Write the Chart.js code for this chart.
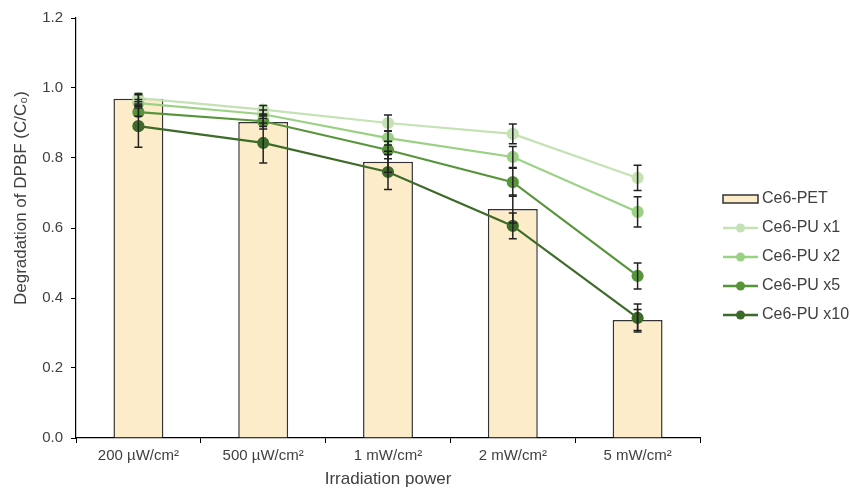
<!DOCTYPE html>
<html>
<head>
<meta charset="utf-8">
<script src="https://cdn.jsdelivr.net/npm/chart.js@4"></script>
<style>
  html, body { margin: 0; padding: 0; background: #fff; }
  #wrap { width: 850px; height: 489px; }
</style>
</head>
<body>
<div id="wrap"><canvas id="chart" width="850" height="489"></canvas></div>
<script>
const categories = ['200 µW/cm²', '500 µW/cm²', '1 mW/cm²', '2 mW/cm²', '5 mW/cm²'];
const yTicks = [0, 0.2, 0.4, 0.6, 0.8, 1.0, 1.2];
const xTitle = 'Irradiation power';
const yTitle = 'Degradation of DPBF (C/C₀)';

const petValues  = [0.969, 0.903, 0.789, 0.654, 0.337];
const pu1Values  = [0.971, 0.938, 0.900, 0.869, 0.743];
const pu2Values  = [0.957, 0.925, 0.857, 0.803, 0.646];
const pu5Values  = [0.931, 0.905, 0.823, 0.731, 0.463];
const pu10Values = [0.891, 0.843, 0.760, 0.606, 0.343];

const petErrors  = [0.015, 0.020, 0.030, 0.040, 0.030];
const pu1Errors  = [0.010, 0.012, 0.023, 0.028, 0.036];
const pu2Errors  = [0.010, 0.012, 0.020, 0.030, 0.043];
const pu5Errors  = [0.012, 0.015, 0.025, 0.040, 0.037];
const pu10Errors = [0.060, 0.057, 0.050, 0.037, 0.040];

const FONT = "'Liberation Sans', Arial, sans-serif";
const TEXT = '#404040';

function lineSet(label, data, errors, color) {
  return {
    type: 'line', label, data, errors,
    borderColor: color, backgroundColor: color,
    pointBackgroundColor: color, pointBorderColor: color,
    borderWidth: 2.2, pointRadius: 5, pointHoverRadius: 5,
    tension: 0, order: 1
  };
}

// draws the black error bars through the chart scales
const errorBars = {
  id: 'errorBars',
  afterDatasetsDraw(chart) {
    const ctx = chart.ctx;
    const ys = chart.scales.y;
    ctx.save();
    ctx.strokeStyle = '#222';
    ctx.lineWidth = 1.5;
    chart.data.datasets.forEach((ds, i) => {
      const meta = chart.getDatasetMeta(i);
      meta.data.forEach((el, j) => {
        const x = el.x;
        const v = ds.data[j], e = ds.errors[j];
        const top = ys.getPixelForValue(v + e);
        const bot = ys.getPixelForValue(v - e);
        ctx.beginPath();
        ctx.moveTo(x, top); ctx.lineTo(x, bot);
        ctx.moveTo(x - 4, top); ctx.lineTo(x + 4, top);
        ctx.moveTo(x - 4, bot); ctx.lineTo(x + 4, bot);
        ctx.stroke();
      });
    });
    ctx.restore();
  }
};

// axis titles placed by hand (the y one sits above the axis middle)
const axisTitles = {
  id: 'axisTitles',
  afterDraw(chart) {
    const ctx = chart.ctx;
    ctx.save();
    ctx.fillStyle = TEXT;
    ctx.font = '17px ' + FONT;
    ctx.textAlign = 'center';
    ctx.textBaseline = 'middle';
    ctx.fillText(xTitle, (chart.chartArea.left + chart.chartArea.right) / 2, 479);
    ctx.translate(21, 198);
    ctx.rotate(-Math.PI / 2);
    ctx.fillText(yTitle, 0, 0);
    ctx.restore();
  }
};

// legend on the right, swatch + line-with-marker entries
const sideLegend = {
  id: 'sideLegend',
  afterDraw(chart) {
    const ctx = chart.ctx;
    const x0 = 723, x1 = 758, tx = 762;
    let y = 199;
    ctx.save();
    ctx.font = '16px ' + FONT;
    ctx.textBaseline = 'middle';
    chart.data.datasets.forEach(ds => {
      if (ds.type === 'bar') {
        ctx.fillStyle = ds.backgroundColor;
        ctx.fillRect(x0, y - 4, x1 - x0, 8);
        ctx.strokeStyle = ds.borderColor;
        ctx.lineWidth = 1.5;
        ctx.strokeRect(x0, y - 4, x1 - x0, 8);
      } else {
        ctx.strokeStyle = ds.borderColor;
        ctx.lineWidth = 2.5;
        ctx.beginPath(); ctx.moveTo(x0, y); ctx.lineTo(x1, y); ctx.stroke();
        ctx.fillStyle = ds.borderColor;
        ctx.beginPath(); ctx.arc((x0 + x1) / 2, y, 4.5, 0, Math.PI * 2); ctx.fill();
      }
      ctx.fillStyle = TEXT;
      ctx.fillText(ds.label, tx, y);
      y += 29;
    });
    ctx.restore();
  }
};

new Chart(document.getElementById('chart'), {
  type: 'bar',
  data: {
    labels: categories,
    datasets: [
      {
        type: 'bar', label: 'Ce6-PET', data: petValues, errors: petErrors,
        backgroundColor: '#fdecc9', borderColor: '#333', borderWidth: 1.5,
        barPercentage: 0.4, categoryPercentage: 1.0, order: 2
      },
      lineSet('Ce6-PU x1', pu1Values, pu1Errors, '#c4e2b3'),
      lineSet('Ce6-PU x2', pu2Values, pu2Errors, '#9bd185'),
      lineSet('Ce6-PU x5', pu5Values, pu5Errors, '#57953b'),
      lineSet('Ce6-PU x10', pu10Values, pu10Errors, '#3d6b29')
    ]
  },
  options: {
    responsive: false,
    devicePixelRatio: 1,
    animation: false,
    layout: { padding: { top: 18, right: 150, left: 0, bottom: 0 } },
    plugins: { legend: { display: false }, tooltip: { enabled: false } },
    scales: {
      x: {
        afterFit(axis) { axis.height = 51; },
        grid: { offset: true, drawOnChartArea: false, drawTicks: true, tickLength: 5, color: '#000' },
        border: { display: true, color: '#000', width: 1.2 },
        ticks: { color: TEXT, font: { family: FONT, size: 15 }, padding: 4, maxRotation: 0 }
      },
      y: {
        min: 0, max: 1.2,
        afterFit(axis) { axis.width = 76; },
        afterBuildTicks(axis) { axis.ticks = yTicks.map(v => ({ value: v })); },
        grid: { drawOnChartArea: false, drawTicks: true, tickLength: 5, color: '#000' },
        border: { display: true, color: '#000', width: 1.2 },
        ticks: { color: TEXT, font: { family: FONT, size: 15 }, padding: 8, callback: v => v.toFixed(1) }
      }
    }
  },
  plugins: [errorBars, axisTitles, sideLegend]
});
</script>
</body>
</html>
